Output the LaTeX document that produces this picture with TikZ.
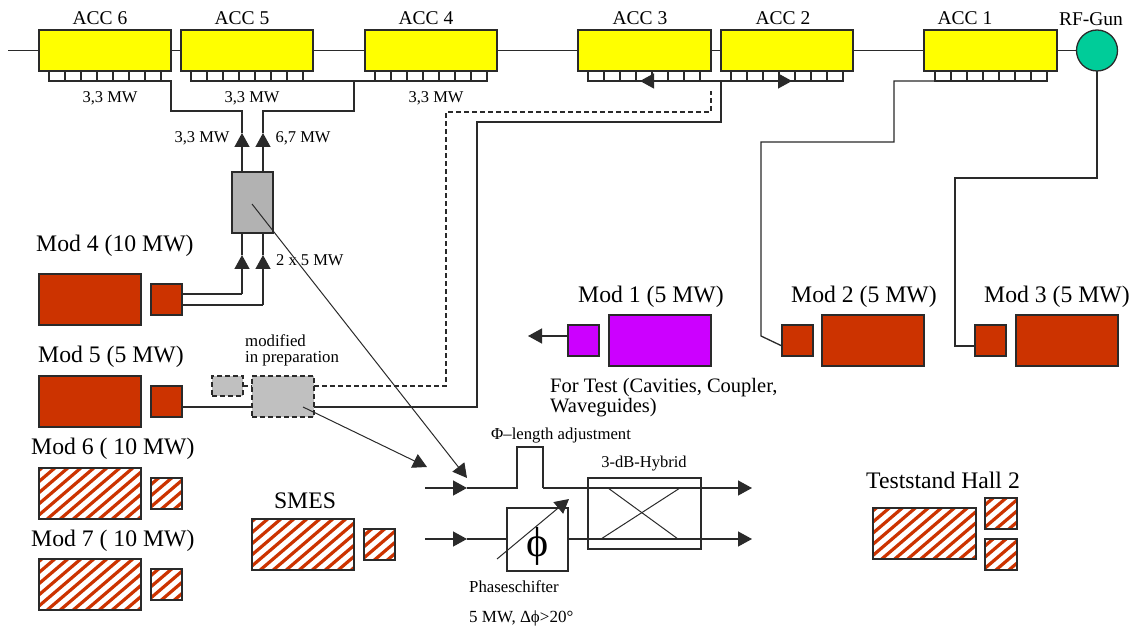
\documentclass[tikz,border=0pt]{standalone}
\usepackage{fontspec}
\setmainfont{Liberation Serif}
\usetikzlibrary{arrows.meta}
\definecolor{accy}{HTML}{FFFF00}
\definecolor{modred}{HTML}{CC3300}
\definecolor{modpur}{HTML}{CC00FF}
\definecolor{gung}{HTML}{00CC99}
\definecolor{splitg}{HTML}{B2B2B2}
\definecolor{prepg}{HTML}{C0C0C0}
\definecolor{ln}{HTML}{2A2A2A}
\newcommand\fs[1]{\fontsize{#1}{#1}\selectfont}
\newcommand\bx[6]{\pgfmathsetmacro\WW{#5-#3}\pgfmathsetmacro\HH{#6-#4}%
  \node[boxbase,#1,minimum width=\WW pt,minimum height=\HH pt] (#2) at (#3,#4) {};}
\newcommand\tabs[2]{\foreach \i in {1,...,7}{\pgfmathsetmacro\XX{#2+(\i-1)*16}%
  \node[boxbase,fill=white,minimum width=16pt,minimum height=10pt] (#1-\i) at (\XX,71) {};}}
\tikzset{
  boxbase/.style={draw=ln,line width=1.3pt,inner sep=0pt,outer sep=0pt,anchor=north west},
  acc/.style={fill=accy},
  kly/.style={fill=modred},
  pur/.style={fill=modpur},
  prep/.style={fill=prepg,dash pattern=on 5pt off 3pt},
  hatched/.style={fill=white,path picture={
    \foreach \k in {-12,...,12}{
      \draw[modred,line width=3.2pt] ([xshift=\k*13pt-70pt,yshift=-60pt]path picture bounding box.center)
        -- ([xshift=\k*13pt+70pt,yshift=60pt]path picture bounding box.center);}}},
  wire/.style={draw=ln,line width=1.3pt},
  dwire/.style={wire,dash pattern=on 5pt off 3pt},
  thin wire/.style={draw=ln,line width=1pt},
  tip/.style={wire,-{Triangle[length=14pt,width=15pt]}},
  acclab/.style={font=\fs{19.5},inner sep=0pt},
  pwr/.style={font=\fs{16.5},inner sep=0pt},
  modlab/.style={font=\fs{23.7},inner sep=0pt},
  small/.style={font=\fs{16.8},inner sep=0pt,anchor=west,align=left},
}
\begin{document}
\begin{tikzpicture}[x=1pt,y=-1pt]
\useasboundingbox (0,0) rectangle (1133,628);
% beam line
\coordinate (bstart) at (8,50.5);
\bx{acc}{acc6}{39}{30}{171}{71}
\bx{acc}{acc5}{181}{30}{313}{71}
\bx{acc}{acc4}{365}{30}{497}{71}
\bx{acc}{acc3}{578}{30}{711}{71}
\bx{acc}{acc2}{721}{30}{853}{71}
\bx{acc}{acc1}{924}{30}{1057}{71}
\node[circle,draw=ln,fill=gung,line width=1.3pt,minimum size=41pt,inner sep=0pt,outer sep=0pt] (gun) at (1097,50.5) {};
\draw[wire] (bstart) -- (acc6.west);
\draw[wire] (acc6.east) -- (acc5.west);
\draw[wire] (acc5.east) -- (acc4.west);
\draw[wire] (acc4.east) -- (acc3.west);
\draw[wire] (acc3.east) -- (acc2.west);
\draw[wire] (acc2.east) -- (acc1.west);
\draw[wire] (acc1.east) -- (gun.west);
% coupler tabs
\tabs{t6}{49}
\tabs{t5}{191}
\tabs{t4}{375}
\tabs{t3}{588}
\tabs{t2}{731}
\tabs{t1}{935}
% labels of accelerators
\node[acclab] (l6) at (100,18) {ACC 6};
\node[acclab] (l5) at (242,18) {ACC 5};
\node[acclab] (l4) at (426,18) {ACC 4};
\node[acclab] (l3) at (640,18) {ACC 3};
\node[acclab] (l2) at (783,18) {ACC 2};
\node[acclab] (l1) at (965,18) {ACC 1};
\node[acclab] (lg) at (1091,19) {RF-Gun};
\node[pwr] (p6) at (110,98) {3,3 MW};
\node[pwr] (p5) at (252,98) {3,3 MW};
\node[pwr] (p4) at (436,98) {3,3 MW};
\node[pwr] (pa) at (202,138) {3,3 MW};
\node[pwr] (pb) at (303,138) {6,7 MW};
\node[pwr,anchor=west] (pc) at (276,260) {2 x 5 MW};
% splitter
\bx{fill=splitg}{split}{232}{172}{273}{233}
% modulators
\bx{kly}{m4}{39}{274}{141}{325}
\bx{kly}{k4}{151}{284}{182}{315}
\bx{kly}{m5}{39}{376}{141}{427}
\bx{kly}{k5}{151}{386}{182}{417}
\bx{hatched}{m6}{39}{468}{141}{519}
\bx{hatched}{k6}{151}{478}{182}{509}
\bx{hatched}{m7}{39}{559}{141}{610}
\bx{hatched}{k7}{151}{569}{182}{600}
\bx{hatched}{ms}{252}{519}{354}{570}
\bx{hatched}{ks}{364}{529}{395}{560}
\bx{pur}{m1}{609}{315}{711}{366}
\bx{pur}{k1}{568}{325}{599}{356}
\bx{kly}{m2}{822}{315}{924}{366}
\bx{kly}{k2}{782}{325}{813}{356}
\bx{kly}{m3}{1016}{315}{1118}{366}
\bx{kly}{k3}{975}{325}{1006}{356}
\bx{hatched}{mt}{873}{508}{976}{559}
\bx{hatched}{kta}{985}{498}{1017}{529}
\bx{hatched}{ktb}{985}{539}{1017}{570}
\bx{prep}{pk}{212}{376}{243}{396}
\bx{prep}{pm}{252}{376}{314}{417}
% modulator labels
\node[modlab,anchor=west] (lm4) at (36,246) {Mod 4 (10 MW)};
\node[modlab,anchor=west] (lm5) at (38,357) {Mod 5 (5 MW)};
\node[modlab,anchor=west] (lm6) at (31,449) {Mod 6 ( 10 MW)};
\node[modlab,anchor=west] (lm7) at (31,541) {Mod 7 ( 10 MW)};
\node[modlab] (lms) at (305,501) {SMES};
\node[modlab,anchor=west] (lm1) at (578,297) {Mod 1 (5 MW)};
\node[modlab,anchor=west] (lm2) at (791,297) {Mod 2 (5 MW)};
\node[modlab,anchor=west] (lm3) at (984,297) {Mod 3 (5 MW)};
\node[modlab] (lmt) at (943,480) {Teststand Hall 2};
\node[small,font=\fs{20.5},anchor=north west,align=left] (lft) at (550,378) {\baselineskip=23pt For Test (Cavities, Coupler,\\Waveguides)};
\node[small,anchor=north west] (lmo) at (245,334) {\baselineskip=21pt modified\\in preparation};
% splitter feeds
\coordinate (sia) at (242,233); \coordinate (sib) at (263,233);
\coordinate (soa) at (242,172); \coordinate (sob) at (263,172);
\coordinate (ua) at (242,255); \coordinate (ub) at (263,255);
\coordinate (ua0) at (242,294); \coordinate (ub0) at (263,305);
\coordinate (va) at (242,133); \coordinate (vb) at (263,133);
\draw[wire] (k4.east |- ua0) -- (ua0);
\draw[tip] (ua0) -- (ua);
\draw[wire] (ua) -- (sia);
\draw[wire] (k4.east |- ub0) -- (ub0);
\draw[tip] (ub0) -- (ub);
\draw[wire] (ub) -- (sib);
\draw[tip] (soa) -- (va);
\draw[tip] (sob) -- (vb);
\coordinate (wa) at (242,111); \coordinate (wb) at (263,111);
\coordinate (xa) at (171,111); \coordinate (xb) at (354,111);
\coordinate (ya) at (171,81); \coordinate (yb) at (354,81);
\draw[wire] (va) -- (wa) -- (xa) -- (ya) -- (t6-7.south east);
\draw[wire] (vb) -- (wb) -- (xb) -- (yb);
\draw[wire] (t5-7.south east) -- (t4-1.south west);
% Mod 5 feeds
\coordinate (da) at (446,386); \coordinate (db) at (446,112); \coordinate (dc) at (711,112); \coordinate (dd) at (711,91);
\coordinate (ea) at (477,407); \coordinate (eb) at (477,122); \coordinate (ec) at (721,122); \coordinate (ed) at (721,81);
\draw[wire] (k5.east |- ea) -- (pm.west |- ea);
\draw[dwire] (pk.east |- da) -- (pm.west |- da);
\draw[dwire] (pm.east |- da) -- (da) -- (db) -- (dc) -- (dd);
\draw[wire] (pm.east |- ea) -- (ea) -- (eb) -- (ec) -- (ed);
\coordinate (ta) at (640,81); \coordinate (tb) at (792,81);
\draw[wire] (t3-7.south east) -- (t2-1.south west);
\draw[tip] (ed) -- (ta);
\draw[tip] (ed) -- (tb);
% ACC1 and gun feeds
\coordinate (f1) at (894,81); \coordinate (f2) at (894,142); \coordinate (f3) at (761,142); \coordinate (f4) at (761,336); \coordinate (f5) at (782,346);
\draw[wire] (t1-1.south west) -- (f1) -- (f2) -- (f3) -- (f4) -- (f5);
\coordinate (g1) at (1097,178); \coordinate (g2) at (955,178); \coordinate (g3) at (955,346);
\draw[wire] (gun.south) -- (g1) -- (g2) -- (g3) -- (k3.west |- g3);
% Mod 1 test arrow
\coordinate (mt1) at (528,336);
\draw[tip] (k1.west |- mt1) -- (mt1);
% distribution
\coordinate (ai) at (425,488); \coordinate (am) at (467,488); \coordinate (a1) at (517,488); \coordinate (a2) at (517,447);
\coordinate (a3) at (543,447); \coordinate (a4) at (543,488); \coordinate (ao) at (752,488);
\coordinate (bi) at (425,539); \coordinate (bm) at (467,539); \coordinate (bo) at (752,539);
\bx{fill=none}{ps}{507}{508}{568}{571}
\bx{fill=none}{hy}{588}{478}{701}{549}
\draw[tip] (ai) -- (am);
\draw[wire] (am) -- (a1) -- (a2) -- (a3) -- (a4);
\draw[tip] (a4) -- (ao);
\draw[tip] (bi) -- (bm);
\draw[wire] (bm) -- (ps.west |- bm);
\draw[tip] (ps.east |- bo) -- (bo);
\coordinate (c1) at (608,488); \coordinate (c2) at (678,539); \coordinate (c3) at (601,539); \coordinate (c4) at (680,488);
\draw[thin wire] (c1) -- (c2);
\draw[thin wire] (c3) -- (c4);
\coordinate (ps1) at (497,559); \coordinate (ps2) at (569,499);
\draw[thin wire,-{Triangle[length=14pt,width=15pt]}] (ps1) -- (ps2);
\node[inner sep=0pt,font=\fs{42}] (phi) at (537.5,546) {ϕ};
% control arrows
\coordinate (cs) at (252,204); \coordinate (cst) at (467,478);
\draw[thin wire,-{Triangle[length=14pt,width=15pt]}] (cs) -- (cst);
\coordinate (cp) at (303,407); \coordinate (cpt) at (427,467);
\draw[thin wire,-{Triangle[length=14pt,width=15pt]}] (cp) -- (cpt);
% lower labels
\node[small,font=\fs{16.7}] (ll) at (491,436) {Φ–length adjustment};
\node[small,font=\fs{16.5},anchor=center] (lh) at (644,464) {3-dB-Hybrid};
\node[small,font=\fs{16.8}] (lp) at (469,587) {Phaseschifter};
\node[small,font=\fs{17}] (lw) at (469,618) {5 MW, Δϕ>20°};
\end{tikzpicture}
\end{document}
